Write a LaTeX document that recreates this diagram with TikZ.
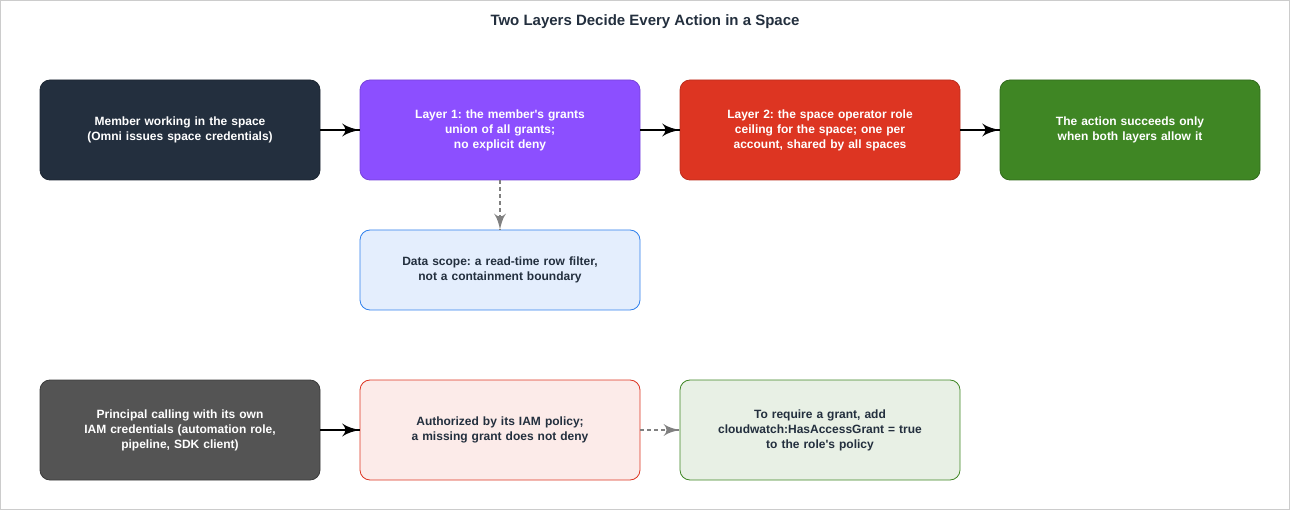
\documentclass[tikz,border=0pt]{standalone}
\usepackage{fontspec}
\setmainfont{Liberation Sans}
\frenchspacing
\usetikzlibrary{decorations.markings}
\usetikzlibrary{arrows}
\definecolor{mnavy}{HTML}{232F3E}
\definecolor{mpurple}{HTML}{8C4FFF}
\definecolor{mred}{HTML}{DD3522}
\definecolor{mgreen}{HTML}{3F8624}
\definecolor{mgrey}{HTML}{545454}
\definecolor{mblue}{HTML}{2F80ED}
\definecolor{mframe}{HTML}{CCCCCC}
\tikzset{arr/.style = {decoration={markings,
                                   mark=at position 1 with {\arrow[scale=2.4]{latex'}}},
                       postaction={decorate}}}
\tikzset{box/.style = {draw, rounded corners = 10, minimum width = 280, minimum height = 100,
                       align = center, text width = 260, inner sep = 0, line width = 0.8,
                       font = \fontsize{12}{15}\selectfont\bfseries}}
\begin{document}
\begin{tikzpicture}[x = 1pt, y = -1pt]
    \useasboundingbox (0, 0) rectangle (1290, 510);
    \draw [mframe, line width = 1] (0.5, 0.5) rectangle (1289.5, 509.5);

    \node (title) at (645, 22) [font = \fontsize{15}{18}\selectfont\bfseries, text = mnavy] {Two Layers Decide Every Action in a Space};

    \node (member) at (180, 130) [box, fill = mnavy, draw = mnavy!80!black, text = white] {Member working in the space\\(Omni issues space credentials)};
    \node (layer1) at (500, 130) [box, fill = mpurple, draw = mpurple!85!black, text = white] {Layer 1: the member\textquotesingle s grants\\union of all grants;\\no explicit deny};
    \node (layer2) at (820, 130) [box, fill = mred, draw = mred!85!black, text = white] {Layer 2: the space operator role\\ceiling for the space; one per\\account, shared by all spaces};
    \node (allow) at (1130, 130) [box, minimum width = 260, text width = 240, fill = mgreen, draw = mgreen!80!black, text = white] {The action succeeds only\\when both layers allow it};
    \node (scope) at (500, 270) [box, minimum height = 80, fill = mblue!13, draw = mblue, text = mnavy] {Data scope: a read-time row filter,\\not a containment boundary};

    \node (principal) at (180, 430) [box, fill = mgrey, draw = mgrey!70!black, text = white] {Principal calling with its own\\IAM credentials (automation role,\\pipeline, SDK client)};
    \node (iam) at (500, 430) [box, fill = mred!10, draw = mred, text = mnavy] {Authorized by its IAM policy;\\a missing grant does not deny};
    \node (require) at (820, 430) [box, fill = mgreen!12, draw = mgreen, text = mnavy] {To require a grant, add\\cloudwatch:HasAccessGrant = true\\to the role\textquotesingle s policy};

    \foreach \a/\b in {member/layer1, layer1/layer2, layer2/allow, principal/iam} {
      \draw [arr, line width = 1.5] (\a.east) -- (\b.west);
    }
    \draw [arr, line width = 1.3, gray, dash pattern = on 4 off 3] (layer1.south) -- (scope.north);
    \draw [arr, line width = 1.3, gray, dash pattern = on 4 off 3] (iam.east) -- (require.west);
  \end{tikzpicture}
\end{document}
